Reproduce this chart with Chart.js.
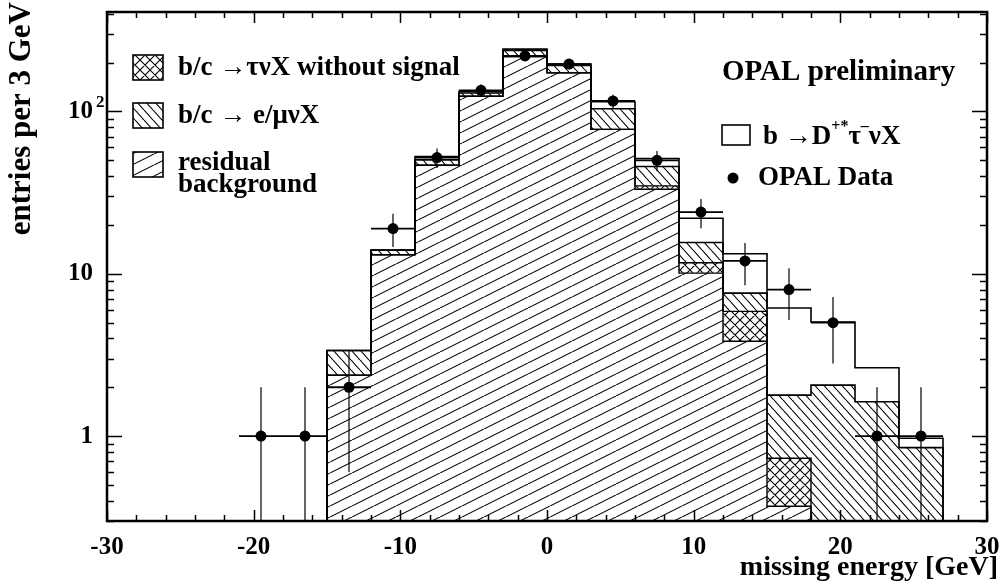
<!DOCTYPE html>
<html><head><meta charset="utf-8">
<script src="https://cdn.jsdelivr.net/npm/chart.js@4.4.1/dist/chart.umd.min.js"></script>
<style>html,body{margin:0;padding:0;background:#fff}#wrap{width:1002px;height:584px;position:relative}</style>
</head><body><div id="wrap"><canvas id="c" width="1002" height="584"></canvas></div>
<script>
// ---- data ----
const binCenters = [-13.5,-10.5,-7.5,-4.5,-1.5,1.5,4.5,7.5,10.5,13.5,16.5,19.5,22.5,25.5];
const residualBg = [2.37,13.1,46.6,124,218,173,77.6,33.2,10.1,3.84,0.37,0,0,0];
const tauBg      = [0,0,0,0,0,0,0,1.6,1.6,2.03,0.36,0,0,0];
const emuBg      = [1.0,0.9,3.7,6,20,19,26.4,11,3.9,1.73,1.06,2.06,1.63,0.85];
const signal     = [0,0,2.4,3,4,4,10.7,5.5,6.4,5.7,4.37,2.99,1.01,0.12];
const dataX   = [-19.5,-16.5,-13.5,-10.5,-7.5,-4.5,-1.5,1.5,4.5,7.5,10.5,13.5,16.5,19.5,22.5,25.5];
const dataY   = [1,1,2,19,52,135,220,196,116,50,24,12,8,5,1,1];
const dataErr = [1,1,1.4,4.4,7.2,11.6,14.8,14,10.8,7.1,4.9,3.5,2.8,2.2,1,1];
const binWidth = 3;
const xTickValues = [-30,-20,-10,0,10,20,30];
const yTickValues = [1,10,100];
const yTickLabels = ['1','10','10'];
const yTickExponents = ['','','2'];
const legendLabels = ['b/c \u2192\u03C4\u03BDX without signal','b/c \u2192 e/\u03BC\u03BDX','residual','background'];

// ---- derived ----
const FLOOR = 0.01;
const cum1 = residualBg.slice();
const cum2 = cum1.map((v,i)=>v+tauBg[i]);
const cum3 = cum2.map((v,i)=>v+emuBg[i]);
const cum4 = cum3.map((v,i)=>v+signal[i]);
const zeros = binCenters.map(()=>0);
function bars(lo, hi){
  const out=[];
  binCenters.forEach((c,i)=>{ if(hi[i]>lo[i]) out.push({x:c,y:[lo[i]>0?lo[i]:FLOOR,hi[i]]}); });
  return out;
}
function outline(cum){
  const h=binWidth/2, n=binCenters.length;
  const pts=[{x:binCenters[0]-h,y:FLOOR}];
  cum.forEach((v,i)=>pts.push({x:binCenters[i]-h,y:v>0?v:FLOOR}));
  pts.push({x:binCenters[n-1]+h,y:cum[n-1]>0?cum[n-1]:FLOOR});
  pts.push({x:binCenters[n-1]+h,y:FLOOR});
  return pts;
}

const canvas=document.getElementById('c');
const mainCtx=canvas.getContext('2d');
function makePattern(kind){
  const c=document.createElement('canvas');
  let w,h;
  if(kind==='res'){w=22;h=11;} else if(kind==='emu'){w=9;h=10;} else {w=10;h=10;}
  c.width=w;c.height=h;
  const g=c.getContext('2d');
  g.fillStyle='#fff';g.fillRect(0,0,w,h);
  g.strokeStyle='#000';g.lineWidth=1.1;
  g.beginPath();
  for(const d of [-w,0,w]){
    if(kind==='res'){g.moveTo(d,h);g.lineTo(d+w,0);}
    else if(kind==='emu'){g.moveTo(d,0);g.lineTo(d+w,h);}
    else {g.moveTo(d,0);g.lineTo(d+w,h);g.moveTo(d,h);g.lineTo(d+w,0);}
  }
  g.stroke();
  return mainCtx.createPattern(c,'repeat');
}
const patRes=makePattern('res'), patEmu=makePattern('emu'), patTau=makePattern('tau');

const FONT='Liberation Serif';
const f=(s)=>'bold '+s+'px "'+FONT+'"';
const decor = {
  id:'decor',
  afterDatasetsDraw(chart){
    const {ctx, chartArea:a, scales:{x,y}} = chart;
    ctx.save();
    ctx.beginPath(); ctx.rect(a.left,a.top,a.right-a.left,a.bottom-a.top); ctx.clip();
    ctx.strokeStyle='#000';
    dataX.forEach((xv,i)=>{
      const px=x.getPixelForValue(xv), py=y.getPixelForValue(dataY[i]);
      const x0=x.getPixelForValue(xv-binWidth/2), x1=x.getPixelForValue(xv+binWidth/2);
      const lo=dataY[i]-dataErr[i];
      const y0= lo>0 ? y.getPixelForValue(lo) : a.bottom+5;
      const y1= y.getPixelForValue(dataY[i]+dataErr[i]);
      ctx.lineWidth=1.8; ctx.beginPath(); ctx.moveTo(x0,py); ctx.lineTo(x1,py); ctx.stroke();
      ctx.lineWidth=1.2; ctx.beginPath(); ctx.moveTo(px,y0); ctx.lineTo(px,y1); ctx.stroke();
    });
    ctx.restore();
  },
  afterDraw(chart){
    const {ctx, chartArea:a, scales:{x,y}} = chart;
    ctx.save();
    ctx.strokeStyle='#000'; ctx.lineWidth=2.5;
    ctx.strokeRect(a.left,a.top,a.right-a.left,a.bottom-a.top);
    // x ticks (inward, bottom and top)
    ctx.lineWidth=1.5; ctx.beginPath();
    for(let v=x.min; v<=x.max+1e-9; v+=2){
      const px=Math.round(x.getPixelForValue(v))+0.5;
      const len = xTickValues.includes(v)?11:6;
      ctx.moveTo(px,a.bottom); ctx.lineTo(px,a.bottom-len);
      ctx.moveTo(px,a.top); ctx.lineTo(px,a.top+len);
    }
    // y ticks (inward, left and right)
    for(let e=-1; e<=2; e++){
      for(let m=1; m<=9; m++){
        const v=m*Math.pow(10,e);
        if(v<y.min||v>y.max) continue;
        const py=Math.round(y.getPixelForValue(v))+0.5;
        const len = m===1?15:7;
        ctx.moveTo(a.left,py); ctx.lineTo(a.left+len,py);
        ctx.moveTo(a.right,py); ctx.lineTo(a.right-len,py);
      }
    }
    ctx.stroke();
    ctx.fillStyle='#000';
    // exponent of the 10^2 tick label
    yTickValues.forEach((v,i)=>{ if(yTickExponents[i]){ ctx.font=f(17); ctx.textAlign='left'; ctx.textBaseline='middle';
      ctx.fillText(yTickExponents[i],96,y.getPixelForValue(v)-9);} });
    // axis titles
    ctx.font=f(28); ctx.textBaseline='middle';
    ctx.textAlign='right'; ctx.fillText('missing energy [GeV]',998,568);
    ctx.font=f(31);
    ctx.save(); ctx.translate(22,2); ctx.rotate(-Math.PI/2); ctx.textAlign='right'; ctx.fillText('entries per 3 GeV',0,0); ctx.restore();
    // legends
    ctx.textBaseline='middle'; ctx.textAlign='left';
    const box=(bx,by,w,h,fill)=>{ctx.fillStyle=fill;ctx.fillRect(bx,by,w,h);ctx.lineWidth=1.6;ctx.strokeStyle='#000';ctx.strokeRect(bx,by,w,h);ctx.fillStyle='#000';};
    box(133,55,30,25,patTau); box(133,103,30,25,patEmu); box(133,152,30,25,patRes);
    ctx.font=f(27);
    ctx.fillText(legendLabels[0],178,68);
    ctx.fillText(legendLabels[1],178,116);
    ctx.fillText(legendLabels[2],178,163);
    ctx.fillText(legendLabels[3],178,185);
    ctx.font=f(29);
    ctx.fillText('OPAL preliminary',722,73);
    box(722,125,28,20,'#fff');
    let tx=763; const ty=137;
    const seg=(t,size,dy)=>{ctx.font=f(size);ctx.fillText(t,tx,ty+dy);tx+=ctx.measureText(t).width;};
    seg('b \u2192D',27,0); seg('+*',16,-10); seg('\u03C4',27,0); seg('\u2013',16,-10); seg('\u03BDX',27,0);
    ctx.beginPath(); ctx.arc(733,178,5.5,0,Math.PI*2); ctx.fill();
    ctx.font=f(27); ctx.fillText('OPAL Data',758,178);
    ctx.restore();
  }
};

const lineDs=(cum,lw)=>({type:'line',data:outline(cum),stepped:'before',borderColor:'#000',borderWidth:lw,pointRadius:0,fill:false,order:5});
new Chart(canvas,{
  type:'bar',
  data:{datasets:[
    {label:'residual background',data:bars(zeros,cum1),backgroundColor:patRes,borderWidth:0,grouped:false,barPercentage:1,categoryPercentage:1,order:10},
    {label:'b/c -> tau nu X without signal',data:bars(cum1,cum2),backgroundColor:patTau,borderWidth:0,grouped:false,barPercentage:1,categoryPercentage:1,order:10},
    {label:'b/c -> e/mu nu X',data:bars(cum2,cum3),backgroundColor:patEmu,borderWidth:0,grouped:false,barPercentage:1,categoryPercentage:1,order:10},
    {label:'b -> D tau nu X',data:bars(cum3,cum4),backgroundColor:'#fff',borderWidth:0,grouped:false,barPercentage:1,categoryPercentage:1,order:10},
    lineDs(cum1,1.4), lineDs(cum2,1.4), lineDs(cum3,1.6), lineDs(cum4,1.6),
    {type:'line',label:'OPAL Data',data:dataX.map((v,i)=>({x:v,y:dataY[i]})),showLine:false,pointRadius:5.5,pointBackgroundColor:'#000',pointBorderColor:'#000',pointBorderWidth:0,order:1}
  ]},
  options:{
    responsive:false, animation:false, events:[],
    layout:{padding:{left:0,right:15,top:12,bottom:0}},
    plugins:{legend:{display:false},tooltip:{enabled:false}},
    scales:{
      x:{type:'linear',min:-30,max:30,offset:false,grid:{display:false},border:{display:false},
        ticks:{stepSize:10,autoSkip:false,maxRotation:0,color:'#000',padding:4,font:{family:FONT,size:25,weight:'bold'},
          callback:(v)=>xTickValues.includes(v)?String(v):''},
        afterFit:(s)=>{s.height=63; s.paddingLeft=0; s.paddingRight=0;}
      },
      y:{type:'logarithmic',min:0.31,max:410,grid:{display:false},border:{display:false},
        ticks:{autoSkip:false,color:'#000',padding:6,font:{family:FONT,size:25,weight:'bold'},
          callback:(v)=>{const k=yTickValues.indexOf(v);return k>=0?yTickLabels[k]:'';}},
        afterFit:(s)=>{s.width=107; s.paddingTop=0; s.paddingBottom=0;}
      }
    }
  },
  plugins:[decor]
});
</script></body></html>
